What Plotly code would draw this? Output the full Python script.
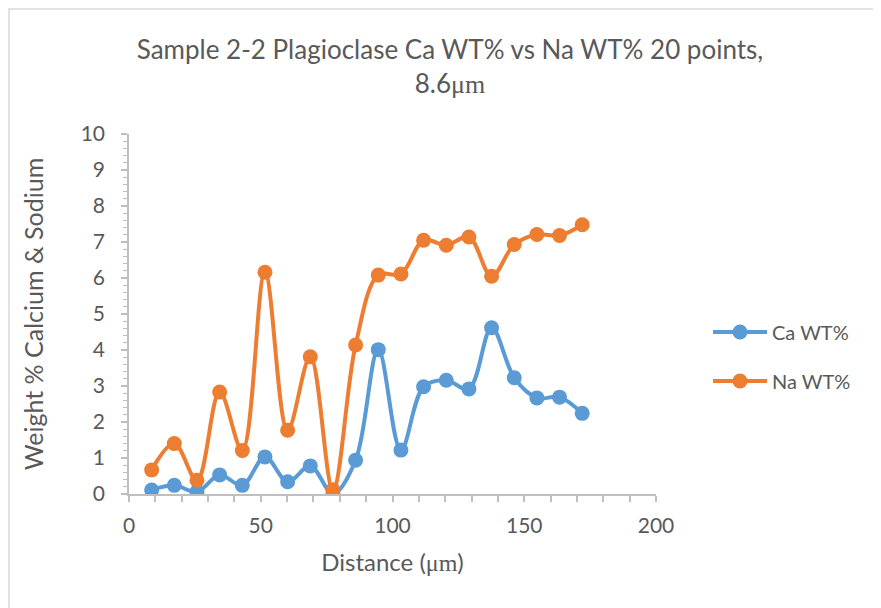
import plotly.graph_objects as go

distance = [8.6, 17.2, 25.8, 34.4, 43.0, 51.6, 60.2, 68.8, 77.4, 86.0,
            94.6, 103.2, 111.8, 120.4, 129.0, 137.6, 146.2, 154.8, 163.4, 172.0]
ca_wt = [0.11, 0.24, 0.06, 0.53, 0.24, 1.03, 0.34, 0.78, 0.01, 0.94,
         4.01, 1.22, 2.98, 3.16, 2.92, 4.62, 3.23, 2.67, 2.69, 2.24]
na_wt = [0.67, 1.40, 0.38, 2.83, 1.21, 6.16, 1.77, 3.81, 0.12, 4.14,
         6.08, 6.11, 7.05, 6.91, 7.14, 6.05, 6.93, 7.21, 7.18, 7.48]

FONT = "Lato"
GREY = "#595959"
AXIS = "#BFBFBF"

fig = go.Figure()
fig.add_trace(go.Scatter(
    x=distance, y=ca_wt, name="Ca WT%", mode="lines+markers",
    line=dict(color="#5B9BD5", width=4, shape="spline", smoothing=1),
    marker=dict(color="#5B9BD5", size=15), legendgroup="ca"))
fig.add_trace(go.Scatter(
    x=distance, y=na_wt, name="Na WT%", mode="lines+markers",
    line=dict(color="#ED7D31", width=4, shape="spline", smoothing=1),
    marker=dict(color="#ED7D31", size=15), legendgroup="na"))

L, T, W, H = 121, 126, 527, 360
fig.update_layout(
    width=881, height=608,
    margin=dict(l=L, r=881 - L - W, t=T, b=608 - T - H),
    paper_bgcolor="white", plot_bgcolor="white",
    font=dict(family=FONT, color=GREY, size=20),
    title=dict(
        text="Sample 2-2 Plagioclase Ca WT% vs Na WT% 20 points,<br>8.6<span style='font-family:Liberation Serif'>μm</span>",
        x=(450 - 8) / 881, xanchor="center", y=1 - 51 / 608, yanchor="top",
        font=dict(family=FONT, size=26, color=GREY)),
    xaxis=dict(
        range=[0, 200], dtick=50, tick0=0, showgrid=False, zeroline=False,
        showline=True, linecolor=AXIS, linewidth=1.5,
        ticks="outside", ticklen=6, tickcolor=AXIS, tickwidth=1.5,
        minor=dict(dtick=10, ticks="outside", ticklen=6, tickcolor=AXIS, tickwidth=1.5),
        tickfont=dict(size=21, color=GREY), ticklabelstandoff=6,
        title=dict(text="Distance (<span style='font-family:Liberation Serif'>μm</span>)",
                   font=dict(size=24, color=GREY), standoff=18)),
    yaxis=dict(
        range=[0, 10], dtick=1, tick0=0, showgrid=False, zeroline=False,
        showline=True, linecolor=AXIS, linewidth=1.5,
        ticks="outside", ticklen=6, tickcolor=AXIS, tickwidth=1.5,
        minor=dict(dtick=0.2, ticks="outside", ticklen=4, tickcolor=AXIS, tickwidth=1),
        tickfont=dict(size=21, color=GREY), ticklabelstandoff=12,
        title=dict(text="Weight % Calcium & Sodium",
                   font=dict(size=25, color=GREY), standoff=30)),
    legend=dict(x=(700 - L) / W, xanchor="left", y=0.382, yanchor="middle",
                font=dict(size=20, color=GREY), tracegroupgap=20,
                itemwidth=54, bgcolor="rgba(0,0,0,0)"),
    showlegend=True,
)

fig.add_shape(type="rect", xref="paper", yref="paper",
              x0=(1 - L) / W, x1=(900 - L) / W,
              y0=(T + H - 640) / H, y1=(T + H - 1) / H,
              line=dict(color="#D9D9D9", width=1.5), fillcolor="rgba(0,0,0,0)",
              layer="below")

fig.write_html("out.html")
